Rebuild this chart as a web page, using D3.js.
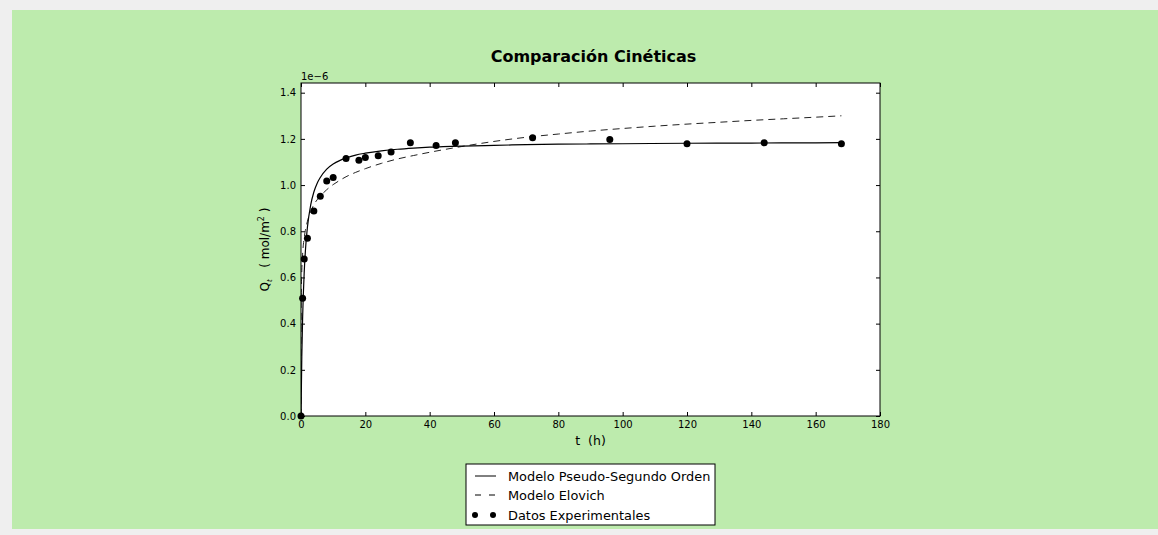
<!DOCTYPE html>
<html>
<head>
<meta charset="utf-8">
<script src="https://cdn.jsdelivr.net/npm/d3@7"></script>
<style>
body { margin: 0; background: #efefef; font-family: "DejaVu Sans", sans-serif; }
</style>
</head>
<body>
<div id="image"></div>
<script>
// experimental data (t in hours, Q in 1e-6 mol/m2)
var tExp = [0, 0.5, 1, 2, 4, 6, 8, 10, 14, 18, 20, 24, 28, 34, 42, 48, 72, 96, 120, 144, 168];
var qExp = [0, 0.51, 0.68, 0.77, 0.888, 0.952, 1.018, 1.033, 1.115, 1.108, 1.119, 1.127, 1.143, 1.183, 1.171, 1.183, 1.205, 1.197, 1.179, 1.183, 1.179];

// model curves
var tPso = [0, 0.25, 0.5, 1, 1.5, 2, 3, 4, 5, 6, 8, 10, 12, 14, 17, 20, 25, 30, 35, 40, 50, 60, 70, 80, 90, 100, 120, 140, 160, 168];
var qPso = [0, 0.257, 0.422, 0.623, 0.741, 0.818, 0.913, 0.970, 1.007, 1.033, 1.069, 1.091, 1.106, 1.117, 1.130, 1.138, 1.148, 1.155, 1.160, 1.164, 1.169, 1.172, 1.175, 1.177, 1.178, 1.179, 1.181, 1.182, 1.183, 1.184];

var tElo = [0, 0.01, 0.03, 0.1, 0.25, 0.5, 1, 1.5, 2, 3, 4, 5, 6, 8, 10, 12, 14, 17, 20, 25, 30, 35, 40, 50, 60, 70, 80, 90, 100, 110, 120, 130, 140, 150, 160, 168];
var qElo = [0, 0.303, 0.413, 0.535, 0.629, 0.701, 0.772, 0.814, 0.843, 0.885, 0.915, 0.936, 0.952, 0.980, 1.002, 1.020, 1.036, 1.055, 1.071, 1.094, 1.113, 1.128, 1.142, 1.167, 1.189, 1.207, 1.221, 1.234, 1.245, 1.255, 1.264, 1.272, 1.280, 1.287, 1.294, 1.300];

var xTicks = [0, 20, 40, 60, 80, 100, 120, 140, 160, 180];
var yTicks = [0, 0.2, 0.4, 0.6, 0.8, 1.0, 1.2, 1.4];
var legendLabels = ["Modelo Pseudo-Segundo Orden", "Modelo Elovich", "Datos Experimentales"];

var W = 1158, H = 535;
var margin = {top: 83, right: 278, bottom: 119, left: 301};
var pw = W - margin.left - margin.right,
    ph = H - margin.top - margin.bottom;

svg = d3.select("#image").append("svg").attr("width", W).attr("height", H)
    .style("display", "block");

svg.append("rect").attr("x", 12).attr("y", 10).attr("width", W - 12).attr("height", 519)
    .attr("fill", "#bdebad");

var x = d3.scaleLinear().domain([0, 180]).range([0, pw]);
var y = d3.scaleLinear().domain([0, 1.442]).range([ph, 0]);

g = svg.append("g").attr("transform", "translate(" + margin.left + "," + margin.top + ")");

g.append("rect").attr("width", pw).attr("height", ph).attr("fill", "#fff");

// axes, ticks pointing in on all four sides
function styleAxis(sel) {
    sel.select(".domain").remove();
    sel.selectAll("text").attr("font-family", "DejaVu Sans").attr("font-size", 10).attr("fill", "#000");
    sel.selectAll("line").attr("stroke", "#000");
}
g.append("g").attr("transform", "translate(0," + ph + ")")
    .call(d3.axisBottom(x).tickValues(xTicks).tickSizeInner(-4).tickSizeOuter(0).tickPadding(5).tickFormat(d3.format("d")))
    .call(styleAxis);
g.append("g")
    .call(d3.axisTop(x).tickValues(xTicks).tickSizeInner(-4).tickSizeOuter(0).tickFormat(""))
    .call(styleAxis);
g.append("g")
    .call(d3.axisLeft(y).tickValues(yTicks).tickSizeInner(-4).tickSizeOuter(0).tickPadding(5).tickFormat(d3.format(".1f")))
    .call(styleAxis);
g.append("g").attr("transform", "translate(" + pw + ",0)")
    .call(d3.axisRight(y).tickValues(yTicks).tickSizeInner(-4).tickSizeOuter(0).tickFormat(""))
    .call(styleAxis);

var clip = svg.append("clipPath").attr("id", "clip").append("rect").attr("width", pw).attr("height", ph);
var plot = g.append("g").attr("clip-path", "url(#clip)");

var line = d3.line()
    .x(function(d) { return x(d[0]); })
    .y(function(d) { return y(d[1]); })
    .curve(d3.curveMonotoneX);

plot.append("path").datum(d3.zip(tElo, qElo)).attr("d", line)
    .attr("fill", "none").attr("stroke", "#222").attr("stroke-width", 1).attr("stroke-dasharray", "7,5");
plot.append("path").datum(d3.zip(tPso, qPso)).attr("d", line)
    .attr("fill", "none").attr("stroke", "#000").attr("stroke-width", 1.2);

g.selectAll(".pt").data(d3.zip(tExp, qExp)).enter().append("circle")
    .attr("class", "pt")
    .attr("cx", function(d) { return x(d[0]); })
    .attr("cy", function(d) { return y(d[1]); })
    .attr("r", 3.5).attr("fill", "#000");

g.append("rect").attr("width", pw).attr("height", ph).attr("fill", "none").attr("stroke", "#000").attr("stroke-width", 1);

// offset text
g.append("text").attr("x", 0).attr("y", -3).attr("font-size", 10).text("1e\u22126");

// title
svg.append("text").attr("x", margin.left + pw / 2 + 3).attr("y", 62).attr("text-anchor", "middle")
    .attr("font-size", 16).attr("font-weight", "bold").text("Comparación Cinéticas");

// axis labels
svg.append("text").attr("x", margin.left + pw / 2).attr("y", 445).attr("text-anchor", "middle")
    .attr("font-size", 12.5).attr("xml:space", "preserve").text("t  (h)");

var yl = svg.append("text").attr("transform", "translate(269," + (margin.top + ph / 2) + ") rotate(-90)")
    .attr("text-anchor", "middle").attr("font-size", 12).attr("xml:space", "preserve");
yl.append("tspan").text("Q");
yl.append("tspan").attr("font-size", 7).attr("font-style", "italic").attr("dy", 3).text("t");
yl.append("tspan").attr("dy", -3).text("   ( mol/m");
yl.append("tspan").attr("font-size", 8).attr("dy", -5).text("2");
yl.append("tspan").attr("dy", 5).text(" )");

// legend
var lg = svg.append("g").attr("transform", "translate(466,464)");
lg.append("rect").attr("width", 249).attr("height", 61).attr("fill", "#fff").attr("stroke", "#000");
var rowY = [12, 31, 51];
lg.append("line").attr("x1", 9).attr("x2", 30).attr("y1", rowY[0]).attr("y2", rowY[0]).attr("stroke", "#000");
lg.append("line").attr("x1", 9).attr("x2", 30).attr("y1", rowY[1]).attr("y2", rowY[1]).attr("stroke", "#000").attr("stroke-dasharray", "6,8");
lg.selectAll(".lpt").data([9, 27]).enter().append("circle")
    .attr("cx", function(d) { return d; }).attr("cy", rowY[2]).attr("r", 3).attr("fill", "#000");
lg.selectAll(".ltxt").data(legendLabels).enter().append("text")
    .attr("x", 42).attr("y", function(d, i) { return rowY[i] + 4.5; })
    .attr("font-size", 12.9).text(function(d) { return d; });
</script>
</body>
</html>
